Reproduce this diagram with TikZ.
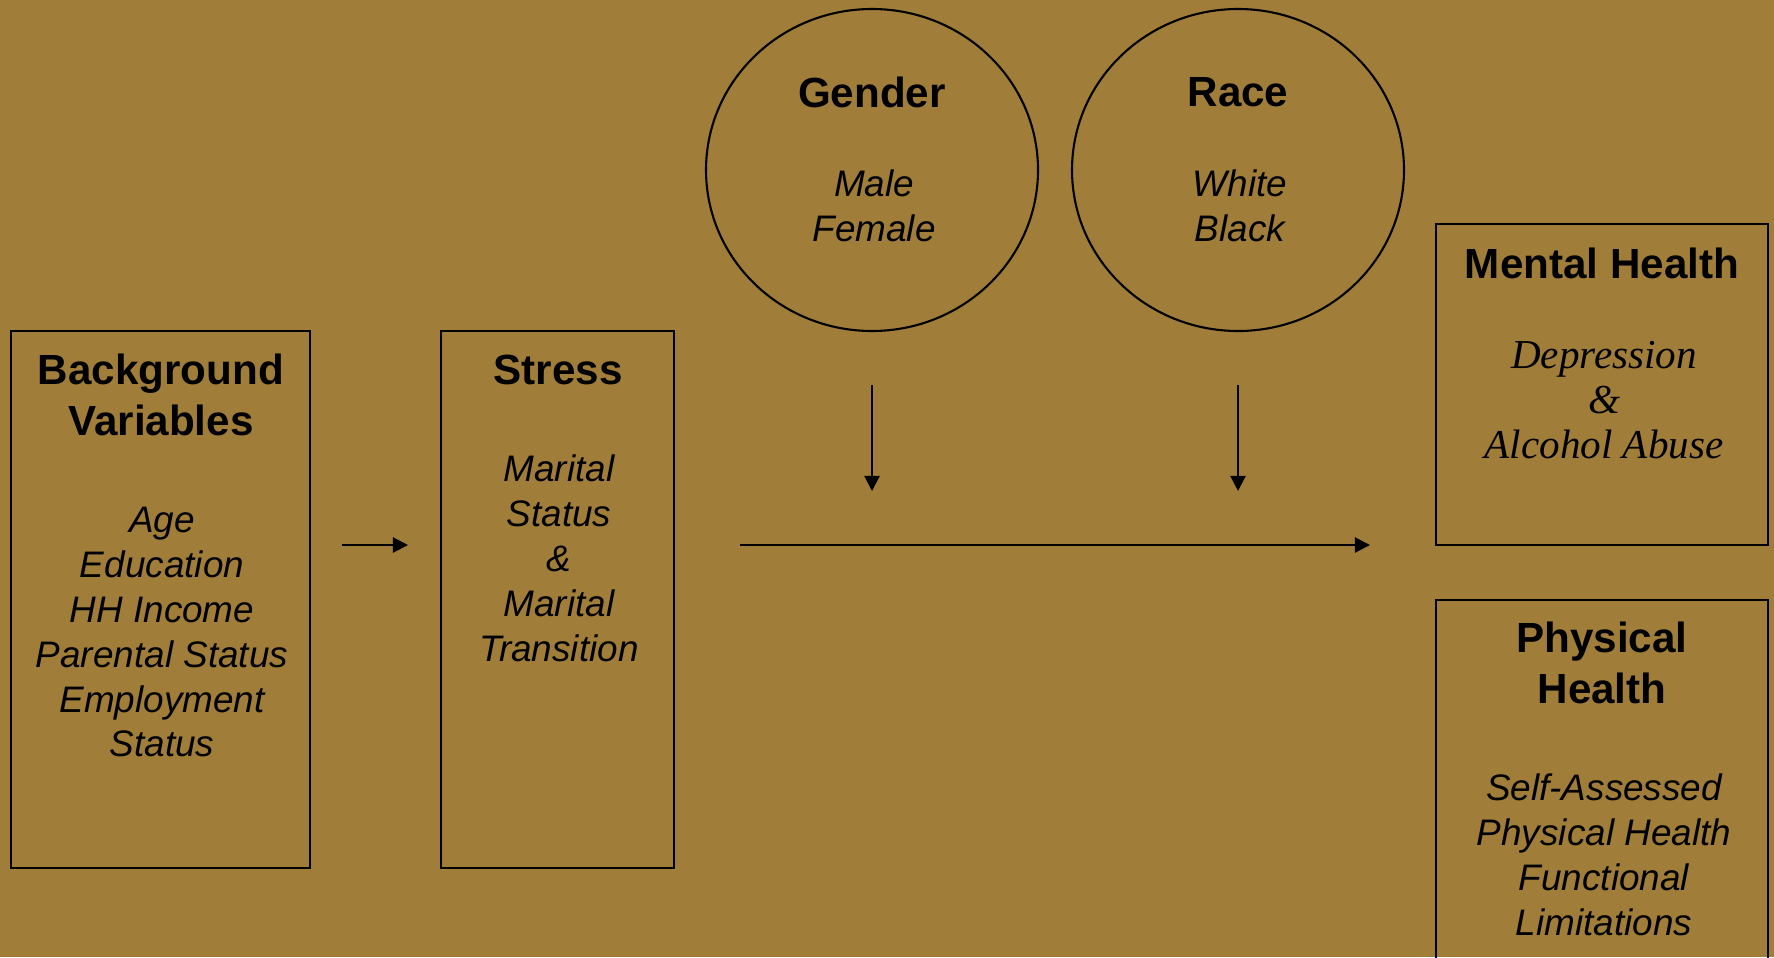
\documentclass[tikz,border=0pt]{standalone}
\usepackage{fontspec}
\setmainfont{Liberation Sans}
\newfontfamily\timesit{Liberation Serif}
\usetikzlibrary{arrows.meta,shapes.geometric}
\definecolor{gold}{RGB}{160,126,58}
\begin{document}
\begin{tikzpicture}[x=0.1mm, y=-0.1mm, line width=0.6pt,
  box/.style={draw, rectangle, inner sep=0pt},
  oval/.style={draw, ellipse, inner sep=0pt, minimum width=33.2mm, minimum height=32.2mm},
  head/.style={align=center, font=\fontsize{12}{14.5}\selectfont\bfseries},
  items/.style={align=center, font=\fontsize{10.5}{12.8}\selectfont\itshape},
  sitems/.style={align=center, font=\fontsize{11.7}{12.8}\selectfont\timesit\itshape},
  arr/.style={-{Triangle[length=4.3pt, width=4.3pt]}}]
\fill[gold] (0,0) rectangle (1774,957);
\useasboundingbox (0,0) rectangle (1774,957);
\clip (0,0) rectangle (1774,957);
% boxes
\node[box, minimum width=29.9mm, minimum height=53.7mm] (bg) at (160.5,599.5) {};
\node[box, minimum width=23.3mm, minimum height=53.7mm] (stress) at (557.5,599.5) {};
\node[box, minimum width=33.2mm, minimum height=32.1mm] (mental) at (1602,384.5) {};
\node[box, minimum width=33.2mm, minimum height=38mm] (physical) at (1602,790) {};
\node[oval] (gender) at (872,170) {};
\node[oval] (race) at (1238,170) {};
% texts
\node[head] (bgHead) at (161,395) {Background\\Variables};
\node[items] (bgItems) at (162,632) {Age\\Education\\HH Income\\Parental Status\\Employment\\Status};
\node[head] (stressHead) at (558,370) {Stress};
\node[items] (stressItems) at (559,558) {Marital\\Status\\\&\\Marital\\Transition};
\node[head] (genderHead) at (872,92) {Gender};
\node[items] (genderItems) at (874,206) {Male\\Female};
\node[head] (raceHead) at (1238,92) {Race};
\node[items] (raceItems) at (1240,206) {White\\Black};
\node[head] (mentalHead) at (1602,263) {Mental Health};
\node[sitems] (mentalItems) at (1604,400) {Depression\\\&\\Alcohol Abuse};
\node[head] (physHead) at (1602,663) {Physical\\Health};
\node[items] (physItems) at (1604,855) {Self-Assessed\\Physical Health\\Functional\\Limitations};
% arrows
\coordinate (a1) at (342,545);
\coordinate (a2) at (408,545);
\coordinate (b1) at (740,545);
\coordinate (b2) at (1370,545);
\coordinate (g1) at (872,385);
\coordinate (g2) at (872,491);
\coordinate (r1) at (1238,385);
\coordinate (r2) at (1238,491);
\draw[arr] (a1) -- (a2);
\draw[arr] (b1) -- (b2);
\draw[arr] (g1) -- (g2);
\draw[arr] (r1) -- (r2);
\end{tikzpicture}
\end{document}
